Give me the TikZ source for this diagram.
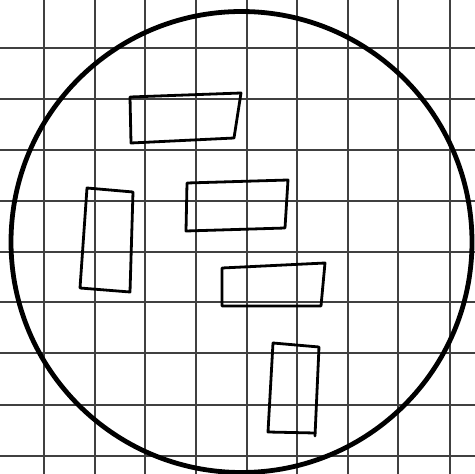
\documentclass[tikz,border=0pt]{standalone}
\begin{document}
\begin{tikzpicture}[x=1pt,y=-1pt,
  gridline/.style={draw=black!75,line width=1.1pt},
  rim/.style={draw=black,line width=4.8pt},
  box/.style={draw=black,line width=2.8pt,line join=round,line cap=round}]
\useasboundingbox (0,0) rectangle (475,474);
\fill[white] (0,0) rectangle (475,474);
% grid
\foreach \x in {44,95,145,196,247,297,348,398,450} \draw[gridline] (\x,0) -- (\x,474);
\foreach \y in {48,99,150,201,252,302,353,405,456} \draw[gridline] (0,\y) -- (475,\y);
% circle
\draw[rim] (241.5,242) circle[radius=230.5];
% rectangles
\draw[box] (130,97) -- (241,93) -- (234,138) -- (131,143) -- cycle;
\draw[box] (87,188) -- (133,192) -- (130,292) -- (80,288) -- cycle;
\draw[box] (187,183) -- (288,180) -- (285,228) -- (186,231) -- cycle;
\draw[box] (222,268) -- (325,263) -- (321,306) -- (222,306) -- cycle;
\draw[box] (273,343) -- (319,347) -- (315,436);
\draw[box] (273,343) -- (268,432) -- (315,433);
\end{tikzpicture}
\end{document}
